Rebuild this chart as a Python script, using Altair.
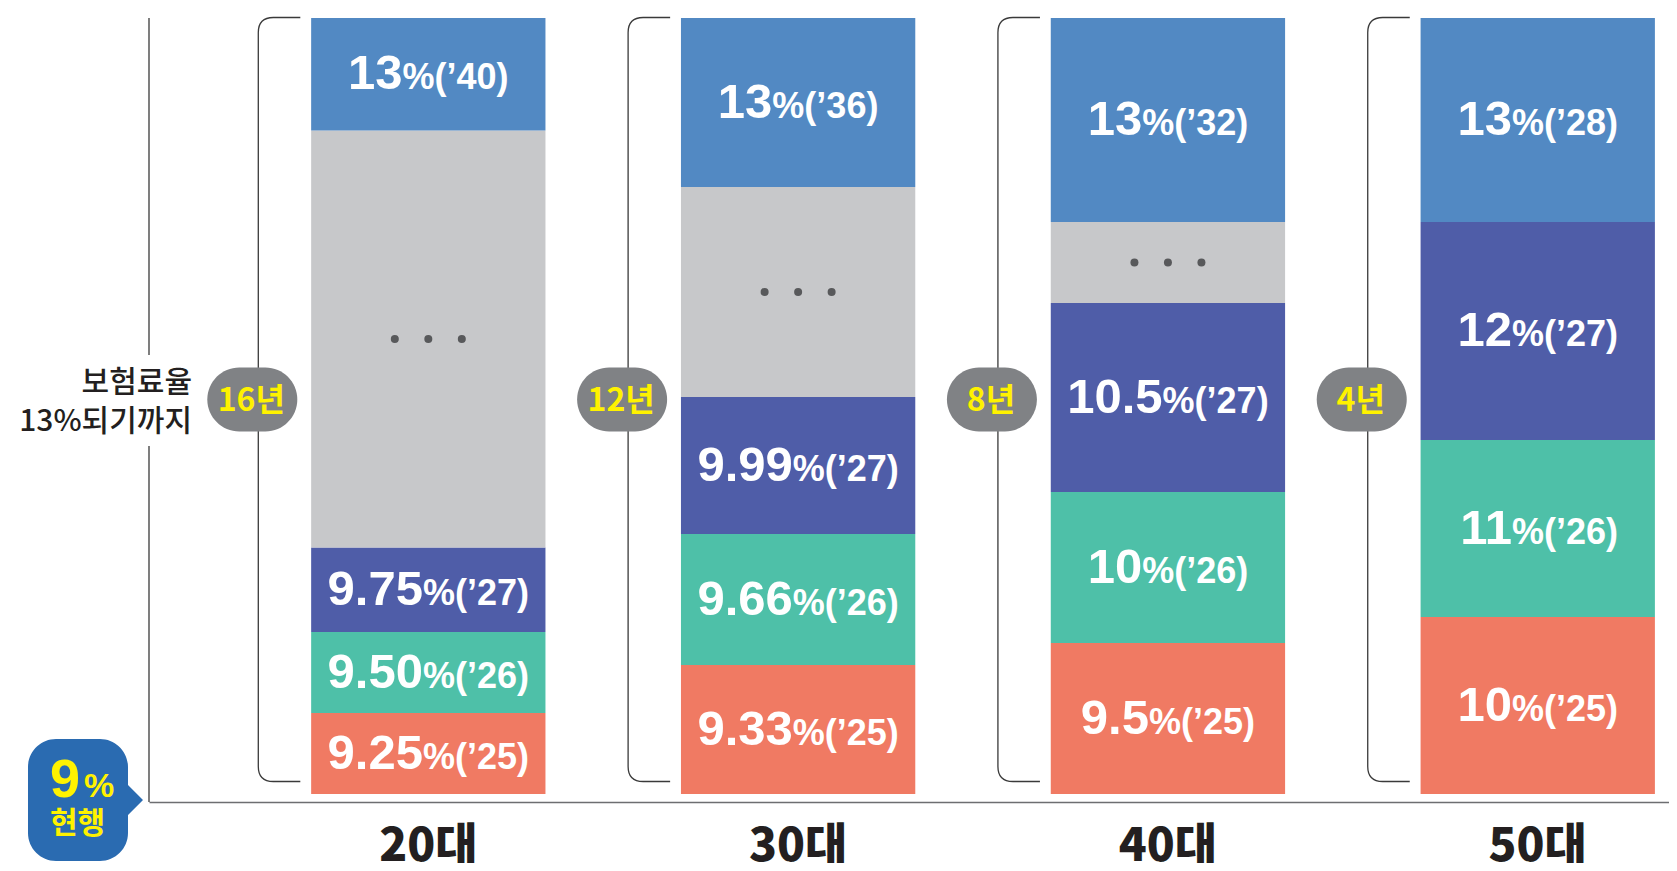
import altair as alt
import pandas as pd

# ---------------- data ----------------
ages = ["20대", "30대", "40대", "50대"]
years_to_13 = ["16년", "12년", "8년", "4년"]
rate_25 = ["9.25", "9.33", "9.5", "10"]
rate_26 = ["9.50", "9.66", "10", "11"]
rate_27 = ["9.75", "9.99", "10.5", "12"]
rate_top = ["13", "13", "13", "13"]
year_top = ["40", "36", "32", "28"]
# visual height of each band of the stacked column (bottom to top)
h_25 = [81, 129, 151, 177]
h_26 = [81, 131, 151, 177]
h_27 = [84.5, 137, 189, 218]
h_gap = [417, 210, 81, 0]
h_top = [112.5, 169, 204, 204]

kinds = ["y25", "y26", "y27", "gap", "top"]
kind_colors = ["#F07A63", "#4EC0A8", "#4F5DA8", "#C7C8CA", "#5289C3"]

# ---------------- build tables ----------------
rows = []
for i, age in enumerate(ages):
    segs = [
        ("y25", h_25[i], rate_25[i], "25"),
        ("y26", h_26[i], rate_26[i], "26"),
        ("y27", h_27[i], rate_27[i], "27"),
        ("gap", h_gap[i], "", ""),
        ("top", h_top[i], rate_top[i], year_top[i]),
    ]
    lo = 0.0
    for kind, h, num, yr in segs:
        if h <= 0:
            continue
        rows.append(dict(age=age, kind=kind, lo=lo, hi=lo + h, mid=lo + h / 2,
                         num=num, suf=("%(\u2019" + yr + ")") if yr else ""))
        lo += h
seg = pd.DataFrame(rows)
seg["lid"] = range(len(seg))

info = pd.DataFrame({"age": ages, "years": years_to_13})
one = pd.DataFrame({"a": [0]})

TOTAL = max(seg["hi"])
NUM_SIZE, SUF_SIZE = 49, 36
CW = {".": 0.278, "%": 0.889, "(": 0.333, ")": 0.333, "\u2019": 0.278}


def tw(s, size):
    return sum(CW.get(c, 0.556) for c in s) * size


# ---------------- scales / encodings ----------------
xscale = alt.Scale(domain=ages, paddingInner=0.3664, paddingOuter=0.2383,
                   align=0.92, round=False)
xaxis = alt.Axis(title=None, ticks=False, labelPadding=44, labelBaseline="middle",
                 labelFont="Noto Sans CJK KR", labelFontSize=46, labelFontWeight=900,
                 labelColor="#231F20", domainColor="#6D6E71", domainWidth=1.6,
                 labelAngle=0, grid=False)
X = alt.X("age:N", sort=ages, scale=xscale, axis=xaxis)
yscale = alt.Scale(domain=[-8, TOTAL], nice=False, zero=False)


def Y(f):
    return alt.Y(f, type="quantitative", scale=yscale, axis=None)


layers = []

# stacked columns
layers.append(
    alt.Chart(seg).mark_bar().encode(
        x=X, y=Y("lo"), y2="hi",
        color=alt.Color("kind:N", scale=alt.Scale(domain=kinds, range=kind_colors), legend=None),
    )
)

# dots in the grey (omitted years) band
for off in (-33.5, 0, 33.5):
    layers.append(
        alt.Chart(seg).transform_filter(alt.datum.kind == "gap").mark_circle(
            size=64, color="#58595B", opacity=1, xOffset=off
        ).encode(x=X, y=Y("mid"))
    )

# value labels: big number + smaller suffix
for _, r in seg[seg["kind"] != "gap"].iterrows():
    dx = (tw(r["num"], NUM_SIZE) - tw(r["suf"], SUF_SIZE)) / 2
    base = alt.Chart(seg).transform_filter(alt.datum.lid == int(r["lid"]))
    layers.append(base.mark_text(align="right", baseline="alphabetic", dx=dx, dy=15,
                                 font="Liberation Sans", fontWeight="bold",
                                 fontSize=NUM_SIZE, color="white")
                  .encode(x=X, y=Y("mid"), text="num:N"))
    layers.append(base.mark_text(align="left", baseline="alphabetic", dx=dx, dy=15,
                                 font="Liberation Sans", fontWeight="bold",
                                 fontSize=SUF_SIZE, color="white")
                  .encode(x=X, y=Y("mid"), text="suf:N"))

# brackets left of each column
u = 764 / 2.0
hw = 21 / u
cr = 15 / u
BRACKET = (f"M {hw:.4f} -1 L {-hw + cr:.4f} -1 Q {-hw:.4f} -1 {-hw:.4f} {-1 + cr:.4f} "
           f"L {-hw:.4f} {1 - cr:.4f} Q {-hw:.4f} 1 {-hw + cr:.4f} 1 L {hw:.4f} 1")
info["yc"] = TOTAL / 2 + 6.5
layers.append(
    alt.Chart(info).mark_point(shape=BRACKET, size=764 ** 2, filled=False, opacity=1,
                               color="#3A3A3A", strokeWidth=1.3, xOffset=-149)
    .encode(x=X, y=Y("yc"))
)

# grey pill badges with years
r_ = 32 / 45.0
s_ = 1 - r_
k_ = 0.5523 * r_
PILL = (f"M {-s_:.4f} {-r_:.4f} L {s_:.4f} {-r_:.4f} "
        f"C {s_ + k_:.4f} {-r_:.4f} 1 {-k_:.4f} 1 0 "
        f"C 1 {k_:.4f} {s_ + k_:.4f} {r_:.4f} {s_:.4f} {r_:.4f} "
        f"L {-s_:.4f} {r_:.4f} "
        f"C {-s_ - k_:.4f} {r_:.4f} -1 {k_:.4f} -1 0 "
        f"C -1 {-k_:.4f} {-s_ - k_:.4f} {-r_:.4f} {-s_:.4f} {-r_:.4f} Z")
layers.append(
    alt.Chart(info).mark_point(shape=PILL, size=90 ** 2, filled=True, opacity=1,
                               color="#808285", strokeWidth=0, xOffset=-176)
    .encode(x=X, y=Y("yc"))
)
layers.append(
    alt.Chart(info).mark_text(font="Noto Sans CJK KR", fontWeight="bold", fontSize=32,
                              color="#FFF200", baseline="middle", align="center",
                              xOffset=-177, dy=1)
    .encode(x=X, y=Y("yc"), text="years:N")
)

# y axis line, interrupted by its title
layers.append(alt.Chart(one).mark_rule(color="#3A3A3A", strokeWidth=1.3)
              .encode(x=alt.value(0), y=alt.value(0), y2=alt.value(337)))
layers.append(alt.Chart(one).mark_rule(color="#3A3A3A", strokeWidth=1.3)
              .encode(x=alt.value(0), y=alt.value(428), y2=alt.value(784)))
layers.append(alt.Chart(one).mark_text(align="right", baseline="middle", font="Noto Sans CJK KR",
                                       fontSize=30, fontWeight=500, color="#231F20")
              .encode(x=alt.value(43), y=alt.value(365), text=alt.value("보험료율")))
layers.append(alt.Chart(one).mark_text(align="right", baseline="middle", font="Noto Sans CJK KR",
                                       fontSize=30, fontWeight=500, color="#231F20")
              .encode(x=alt.value(43), y=alt.value(404), text=alt.value("13%되기까지")))

# "9% 현행" speech bubble
bh = 61.0
bw_ = 50 / bh
br = 28 / bh
bk = 0.5523 * br
pb = 15 / bh
BUBBLE = (f"M {-bw_ + br:.4f} -1 L {bw_ - br:.4f} -1 "
          f"C {bw_ - br + bk:.4f} -1 {bw_:.4f} {-1 + br - bk:.4f} {bw_:.4f} {-1 + br:.4f} "
          f"L {bw_:.4f} {-pb:.4f} L {bw_ + pb:.4f} 0 L {bw_:.4f} {pb:.4f} "
          f"L {bw_:.4f} {1 - br:.4f} "
          f"C {bw_:.4f} {1 - br + bk:.4f} {bw_ - br + bk:.4f} 1 {bw_ - br:.4f} 1 "
          f"L {-bw_ + br:.4f} 1 "
          f"C {-bw_ + br - bk:.4f} 1 {-bw_:.4f} {1 - br + bk:.4f} {-bw_:.4f} {1 - br:.4f} "
          f"L {-bw_:.4f} {-1 + br:.4f} "
          f"C {-bw_:.4f} {-1 + br - bk:.4f} {-bw_ + br - bk:.4f} -1 {-bw_ + br:.4f} -1 Z")
layers.append(alt.Chart(one).mark_point(shape=BUBBLE, size=(2 * bh) ** 2, filled=True, opacity=1,
                                        color="#2A6BB1", strokeWidth=0)
              .encode(x=alt.value(-71), y=alt.value(782)))
layers.append(alt.Chart(one).mark_text(align="right", baseline="alphabetic", font="Liberation Sans",
                                       fontWeight="bold", fontSize=54, color="#FFF200")
              .encode(x=alt.value(-69), y=alt.value(779), text=alt.value("9")))
layers.append(alt.Chart(one).mark_text(align="left", baseline="alphabetic", font="Liberation Sans",
                                       fontWeight="bold", fontSize=34, color="#FFF200")
              .encode(x=alt.value(-65), y=alt.value(779), text=alt.value("%")))
layers.append(alt.Chart(one).mark_text(align="center", baseline="middle", font="Noto Sans CJK KR",
                                       fontWeight="bold", fontSize=30, color="#FFF200")
              .encode(x=alt.value(-71.5), y=alt.value(806), text=alt.value("현행")))

chart = (
    alt.layer(*layers)
    .properties(width=1520, height=784,
                padding={"left": 141, "top": 10, "right": 0, "bottom": 61},
                autosize=alt.AutoSizeParams(type="none"))
    .configure_view(stroke=None)
)
chart.save("out.html", embed_options={"renderer": "svg", "actions": False})
